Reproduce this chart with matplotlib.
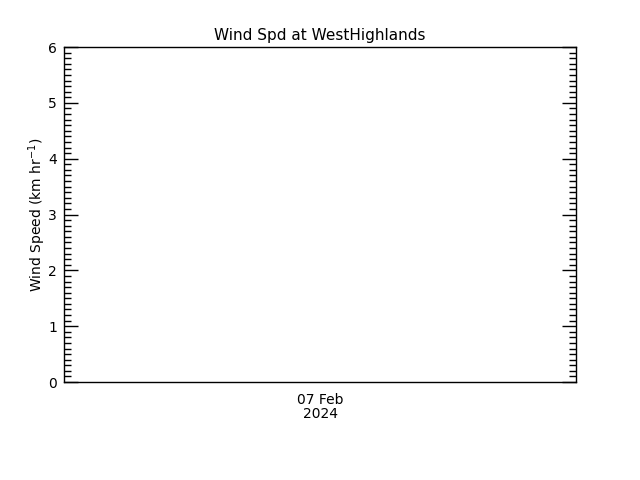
import datetime as dt

import matplotlib
import matplotlib.pyplot as plt
import matplotlib.dates as mdates
from matplotlib.ticker import MultipleLocator

matplotlib.use('Agg')

# no observations in the window -> empty series
times = []
wind_speed = []

station = 'WestHighlands'
day = dt.datetime(2024, 2, 7)
x_start = day - dt.timedelta(hours=12)
x_end = day + dt.timedelta(hours=12)
y_min, y_max = 0, 6

fig = plt.figure(figsize=(6.4, 4.8), dpi=100)
ax = fig.add_axes([0.1, 0.204, 0.8, 0.698])

ax.plot(times, wind_speed, color='black', lw=1)

ax.set_xlim(x_start, x_end)
ax.set_ylim(y_min, y_max)

ax.set_xticks([mdates.date2num(day)])
ax.set_xticklabels([day.strftime('%d %b') + '\n' + day.strftime('%Y')], fontsize=10, linespacing=1.0)
ax.tick_params(axis='x', length=0, pad=8)

ax.yaxis.set_major_locator(MultipleLocator(1))
ax.yaxis.set_minor_locator(MultipleLocator(0.1))
ax.tick_params(axis='y', which='major', direction='in', length=10, width=1,
               right=True, labelsize=10, pad=5)
ax.tick_params(axis='y', which='minor', direction='in', length=5, width=1, right=True)

for sp in ax.spines.values():
    sp.set_linewidth(1)

ax.set_ylabel('Wind Speed (km hr$^{-1}$)', fontsize=10, labelpad=0)
ax.set_title(f'Wind Spd at {station}', fontsize=11, pad=5)

fig.savefig('out.png', dpi=100)
